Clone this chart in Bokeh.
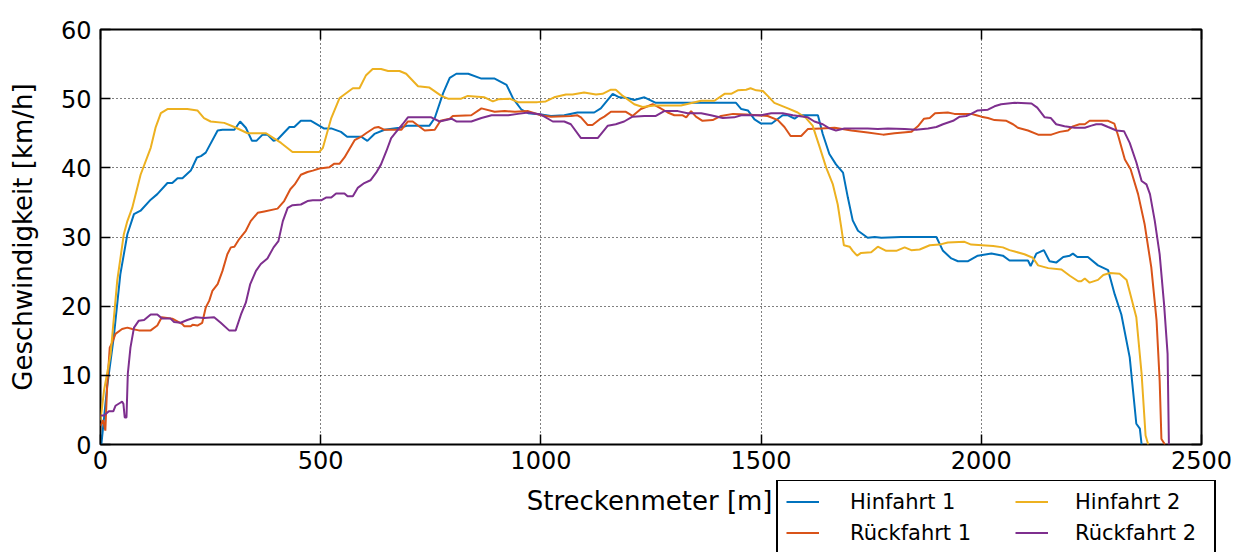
from bokeh.plotting import figure
from bokeh.models import Legend, LegendItem, LinearAxis, FixedTicker, Range1d, Label
from bokeh.layouts import column
from bokeh.embed import file_html
from bokeh.resources import INLINE

# ---- data ----
hin1 = [(2,0),(15,8.3),(30,15.5),(45,24.6),(61,30.4),(76,33.3),(91,33.8),(114,35.4),(129,36.2),(152,37.8),
        (163,37.8),(175,38.5),(186,38.5),(205,39.6),(219,41.5),(228,41.7),(239,42.2),(266,45.4),(277,45.5),
        (304,45.5),(317,46.7),(330,45.8),(344,43.9),(354,43.9),(368,44.8),(379,44.8),(393,43.9),(402,44.1),
        (429,45.9),(440,45.9),(455,46.8),(478,46.8),(507,45.7),(524,45.7),(546,45.2),(560,44.5),(592,44.5),
        (606,43.9),(622,44.9),(645,45.5),(679,45.8),(698,46.1),(747,46.1),(759,47.2),(778,50.8),(793,53.0),
        (808,53.6),(835,53.6),(865,52.9),(895,52.9),(922,52.0),(937,50.0),(956,48.4),(971,47.9),(1001,47.7),
        (1023,47.5),(1053,47.6),(1083,48.0),(1121,48.0),(1136,48.6),(1163,50.7),(1178,50.2),(1197,50.1),
        (1212,49.8),(1235,50.2),(1261,49.4),(1333,49.4),(1443,49.4),(1455,48.5),(1470,48.3),(1485,47.0),
        (1500,46.4),(1524,46.4),(1549,47.6),(1561,47.6),(1576,47.1),(1587,47.6),(1629,47.6),(1640,44.9),
        (1655,42.0),(1670,40.5),(1686,39.3),(1697,35.7),(1708,32.4),(1720,30.9),(1742,29.9),(1758,30.0),
        (1773,29.9),(1818,30.0),(1898,30.0),(1913,28.0),(1932,26.9),(1947,26.5),(1970,26.5),(1992,27.3),
        (2023,27.6),(2049,27.3),(2064,26.6),(2106,26.6),(2112,25.8),(2125,27.6),(2142,28.1),(2155,26.5),
        (2170,26.3),(2186,27.1),(2201,27.3),(2208,27.6),(2218,27.1),(2242,27.1),(2265,25.9),(2288,25.2),
        (2303,21.7),(2318,18.8),(2337,12.6),(2352,3.0),(2360,2.3),(2364,0)]

rueck1 = [(0,2.7),(6,3.5),(11,2.0),(15,8.3),(21,14.0),(27,14.8),(34,16.0),(49,16.7),(61,16.9),(72,16.7),
          (87,16.5),(114,16.5),(129,17.2),(139,18.4),(163,18.2),(186,17.4),(190,17.1),(205,17.1),(209,17.3),
          (220,17.2),(231,17.6),(239,19.8),(247,20.8),(254,22.2),(266,23.2),(277,25.1),(288,27.5),(296,28.5),
          (304,28.6),(315,29.7),(330,30.9),(341,32.3),(357,33.5),(372,33.7),(402,34.1),(417,35.2),(431,36.9),
          (441,37.6),(455,39.0),(470,39.4),(482,39.6),(497,39.9),(520,40.1),(531,40.6),(543,40.6),(554,41.5),
          (577,44.0),(592,44.5),(603,45.0),(622,45.8),(631,45.9),(645,45.5),(683,45.5),(698,46.7),(709,46.7),
          (736,45.4),(759,45.5),(772,46.8),(793,47.1),(800,47.5),(842,47.6),(865,48.6),(895,48.1),(918,48.2),
          (941,48.1),(971,48.2),(1000,47.6),(1023,47.4),(1068,47.5),(1083,47.6),(1091,47.3),(1106,46.2),
          (1117,46.2),(1133,47.0),(1144,47.4),(1159,48.1),(1193,48.1),(1208,47.5),(1227,48.5),(1254,49.2),
          (1269,48.7),(1288,48.0),(1303,47.6),(1322,47.6),(1330,47.3),(1341,48.2),(1352,47.4),(1367,46.8),
          (1390,46.9),(1409,47.5),(1436,47.8),(1466,47.7),(1492,47.6),(1515,47.5),(1538,46.9),(1553,45.9),
          (1567,44.6),(1591,44.6),(1606,45.6),(1636,45.7),(1667,45.8),(1705,45.4),(1742,45.1),(1777,44.8),
          (1803,45.0),(1841,45.2),(1856,46.0),(1870,47.1),(1883,47.2),(1895,47.9),(1924,48.0),(1939,47.8),
          (1977,47.8),(1989,47.6),(2000,47.4),(2015,47.2),(2030,46.9),(2057,46.8),(2072,46.3),(2083,45.8),
          (2106,45.4),(2129,44.8),(2159,44.8),(2178,45.2),(2197,45.4),(2208,46.0),(2223,46.3),(2235,46.3),
          (2246,46.8),(2288,46.8),(2302,46.4),(2311,44.6),(2326,41.2),(2339,39.8),(2356,36.2),(2371,31.8),
          (2386,25.6),(2398,17.9),(2405,9.2),(2409,0.8),(2417,0)]

hin2 = [(0,3.5),(8,7.8),(23,13.1),(38,23.7),(53,30.4),(61,32.3),(72,34.2),(91,39.0),(114,42.9),(125,45.8),
        (137,47.9),(152,48.5),(197,48.5),(220,48.3),(235,47.2),(250,46.7),(281,46.5),(304,45.9),(334,45.0),
        (376,45.0),(410,43.6),(436,42.3),(497,42.3),(505,42.9),(524,47.2),(543,50.1),(573,51.5),(588,51.5),
        (603,53.4),(618,54.3),(637,54.3),(653,54.0),(679,54.0),(694,53.6),(721,51.8),(747,51.6),(774,50.4),
        (789,50.0),(819,50.0),(834,50.4),(872,50.2),(891,49.6),(903,49.9),(929,50.0),(948,49.5),(992,49.5),
        (1011,49.6),(1030,50.2),(1057,50.6),(1072,50.6),(1098,50.9),(1125,50.6),(1140,50.7),(1159,51.3),
        (1170,51.3),(1186,50.4),(1212,49.2),(1231,48.8),(1258,49.0),(1318,49.0),(1364,49.7),(1394,49.7),
        (1417,50.7),(1432,50.7),(1447,51.2),(1466,51.3),(1476,51.5),(1489,51.2),(1504,51.1),(1515,50.4),
        (1530,49.4),(1561,48.6),(1583,48.0),(1602,47.2),(1617,46.1),(1633,43.0),(1648,40.0),(1663,37.6),
        (1674,34.7),(1682,31.4),(1688,28.8),(1701,28.6),(1708,28.0),(1718,27.3),(1727,27.7),(1750,27.8),
        (1765,28.6),(1784,28.0),(1807,28.0),(1826,28.5),(1841,28.1),(1860,28.2),(1883,28.8),(1905,28.9),
        (1924,29.2),(1962,29.3),(1977,28.9),(2027,28.7),(2049,28.5),(2064,28.1),(2076,27.9),(2098,27.5),
        (2117,27.0),(2129,25.9),(2152,25.5),(2182,25.3),(2201,24.4),(2220,23.6),(2227,23.6),(2235,24.0),
        (2246,23.4),(2265,23.8),(2277,24.5),(2292,24.8),(2314,24.7),(2330,23.8),(2352,18.4),(2364,10.2),
        (2373,1.3),(2379,0)]

rueck2 = [(0,4.2),(8,4.2),(19,4.8),(29,4.8),(34,5.6),(44,6.0),(49,6.2),(52,5.9),(55,3.9),(59,3.9),
          (62,10.2),(68,14.0),(76,16.9),(87,17.9),(99,18.0),(114,18.8),(129,18.8),(140,18.2),(159,18.2),
          (167,17.7),(182,17.6),(197,18.0),(216,18.4),(235,18.3),(258,18.4),(273,17.6),(292,16.5),(307,16.5),
          (319,18.8),(330,20.5),(340,23.2),(353,25.1),(364,26.1),(379,26.9),(393,28.5),(404,29.4),(414,32.3),
          (425,34.2),(436,34.6),(455,34.7),(470,35.2),(482,35.3),(501,35.3),(512,35.7),(524,35.7),(535,36.3),
          (554,36.3),(561,35.9),(573,35.9),(584,37.1),(599,37.8),(613,38.2),(626,39.3),(637,40.5),(649,42.4),
          (660,44.3),(675,45.5),(686,46.3),(698,47.3),(751,47.3),(770,46.7),(797,47.1),(808,46.7),(842,46.7),
          (865,47.2),(888,47.6),(926,47.6),(948,47.8),(971,48.0),(1000,47.7),(1027,46.7),(1053,46.7),
          (1068,46.3),(1091,44.3),(1129,44.3),(1152,46.1),(1170,46.3),(1189,46.7),(1208,47.4),(1235,47.5),
          (1261,47.5),(1280,48.2),(1311,48.2),(1333,47.9),(1364,47.9),(1386,47.6),(1413,47.2),(1439,47.3),
          (1455,47.6),(1500,47.6),(1523,47.9),(1549,47.9),(1572,47.6),(1606,47.3),(1621,46.7),(1640,46.3),
          (1655,45.7),(1670,45.4),(1689,45.7),(1742,45.7),(1765,45.6),(1788,45.7),(1826,45.6),(1852,45.5),
          (1879,45.7),(1898,45.9),(1913,46.3),(1936,46.8),(1951,47.4),(1966,47.5),(1977,47.8),(1992,48.3),
          (2015,48.4),(2030,48.9),(2045,49.2),(2076,49.4),(2114,49.3),(2127,48.7),(2144,47.3),(2158,47.2),
          (2170,46.3),(2189,46.0),(2212,45.8),(2235,45.8),(2250,46.1),(2261,46.3),(2273,46.3),(2288,45.9),
          (2307,45.4),(2324,45.3),(2337,43.6),(2352,40.8),(2364,38.1),(2375,37.6),(2383,36.2),(2394,32.3),
          (2405,27.5),(2415,20.3),(2423,13.1),(2426,0)]

series_names = ["Hinfahrt 1", "Rückfahrt 1", "Hinfahrt 2", "Rückfahrt 2"]
series_data = [hin1, rueck1, hin2, rueck2]
series_colors = ["#0072BD", "#D95319", "#EDB120", "#7E2F8E"]
x_ticks = [0, 500, 1000, 1500, 2000, 2500]
y_ticks = [0, 10, 20, 30, 40, 50, 60]
x_label = "Streckenmeter [m]"
y_label = "Geschwindigkeit [km/h]"

FONT = "DejaVu Sans"

# ---------------- main chart ----------------
p = figure(width=1235, height=480, x_range=(0, 2500), y_range=(0, 60),
           output_backend="svg", toolbar_location=None, frame_align=False,
           min_border_left=100, min_border_right=34, min_border_top=29, min_border_bottom=36)

p.outline_line_color = "black"
p.outline_line_width = 2
p.outline_line_alpha = 1.0

# extra axes for top/right ticks (no labels)
p.add_layout(LinearAxis(major_label_overrides={t: "" for t in x_ticks}), "above")
p.add_layout(LinearAxis(major_label_overrides={t: "" for t in y_ticks}), "right")

for ax in p.axis:
    ax.axis_line_color = None
    ax.major_tick_in = 10
    ax.major_tick_out = 0
    ax.minor_tick_line_color = None
    ax.major_tick_line_color = "black"
    ax.major_tick_line_width = 1.5
    ax.major_label_text_font = FONT
    ax.major_label_text_font_size = "24px"
    ax.major_label_text_color = "black"
    ax.axis_label_text_font = FONT
    ax.axis_label_text_font_size = "26px"
    ax.axis_label_text_font_style = "normal"
    ax.axis_label_text_color = "black"

for ax in p.xaxis:
    ax.ticker = FixedTicker(ticks=x_ticks)
for ax in p.yaxis:
    ax.ticker = FixedTicker(ticks=y_ticks)

for ax in (p.above[0], p.right[0]):
    ax.major_label_text_color = None
    ax.major_label_text_font_size = "1px"
    ax.major_label_standoff = 0

p.below[0].major_label_standoff = 6
p.left[0].axis_label = y_label
p.left[0].major_label_standoff = 9
p.left[0].axis_label_standoff = 20

p.grid.grid_line_color = "black"
p.grid.grid_line_dash = "1 3"
p.grid.grid_line_width = 1
p.grid.grid_line_alpha = 1.0

for name, data, col in zip(series_names, series_data, series_colors):
    xs = [d[0] for d in data]
    ys = [d[1] for d in data]
    p.line(xs, ys, line_color=col, line_width=2)

# ---------------- footer: x-axis title + legend (pixel-like coordinates) ----------------
FOOT_W, FOOT_H = 1235, 72
f = figure(width=FOOT_W, height=FOOT_H, x_range=Range1d(0, FOOT_W), y_range=Range1d(0, FOOT_H),
           output_backend="svg", toolbar_location=None, frame_align=False,
           x_axis_location=None, y_axis_location=None,
           min_border_left=0, min_border_right=0, min_border_top=0, min_border_bottom=0)
f.outline_line_color = None
f.grid.visible = False
f.extra_x_ranges = {"hidden": Range1d(-2, -1)}
f.extra_y_ranges = {"hidden": Range1d(-2, -1)}

f.add_layout(Label(x=772, y=FOOT_H - 20, text=x_label, text_align="right",
                   text_baseline="middle", text_font=FONT, text_font_size="26px",
                   text_color="black"))

items = []
for name, data, col in zip(series_names, series_data, series_colors):
    xs = [d[0] for d in data]
    ys = [d[1] for d in data]
    # drawn on a hidden range: only supplies the legend's line sample
    r = f.line(xs, ys, line_color=col, line_width=2, x_range_name="hidden", y_range_name="hidden")
    items.append(LegendItem(label=name, renderers=[r]))

common = dict(label_text_font=FONT, label_text_font_size="21px", label_text_color="black",
              glyph_width=33, glyph_height=25, label_height=25,
              spacing=6, padding=8, margin=0, orientation="vertical")

# first column + frame of the whole legend box
legend1 = Legend(items=[items[0], items[1]], location=(776, -3),
                 label_width=356, label_standoff=31,
                 border_line_color="black", border_line_width=2, border_line_alpha=1.0,
                 background_fill_color="white", background_fill_alpha=1.0, **common)
# second column, drawn inside the same box
legend2 = Legend(items=[items[2], items[3]], location=(1015, 7), label_standoff=27,
                 border_line_color=None, background_fill_alpha=0.0, **common)
f.add_layout(legend1)
f.add_layout(legend2)

layout = column(p, f)

open("out.html", "w").write(file_html(layout, INLINE))
